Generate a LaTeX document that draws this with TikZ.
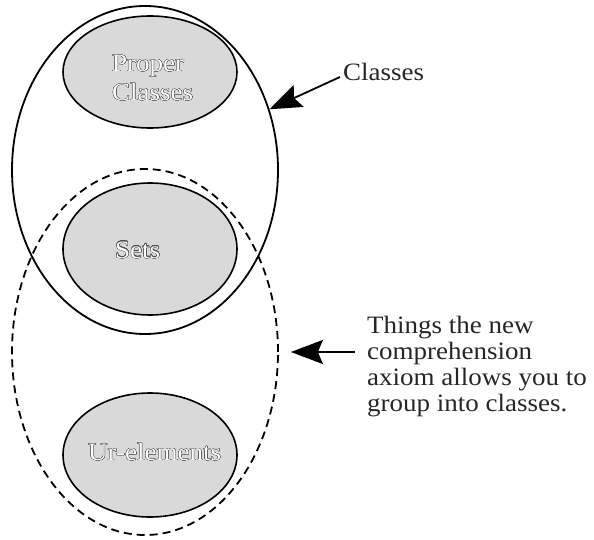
\documentclass[tikz,border=0pt]{standalone}
\usepackage{fontspec}
\setmainfont{Liberation Serif}[FakeStretch=1.08]
\usepackage{contour}
\contourlength{0.3pt}
\usetikzlibrary{shapes.geometric,arrows.meta,calc}
\definecolor{blobgray}{RGB}{217,217,217}
\begin{document}
\begin{tikzpicture}[x=1pt,y=-1pt]
\tikzstyle{every node}+=[inner sep=0pt]
\tikzstyle{outer}=[ellipse, draw, line width=1.8pt]
\tikzstyle{blob}=[ellipse, draw, line width=1.6pt, fill=blobgray]
\tikzstyle{emboss}=[font=\fontsize{25}{29}\selectfont, align=left, text=white]
\tikzstyle{note}=[font=\fontsize{25}{26}\selectfont, align=left, text=black!85]
\tikzstyle{bigarrow}=[line width=1.8pt, -{Stealth[length=32pt,width=24pt,inset=5pt]}]
\useasboundingbox (0,0) rectangle (594,540);

% the two big regions
\node[outer, minimum width=266pt, minimum height=328pt] (classes) at (145,170) {};
\node[outer, dash pattern=on 8pt off 5pt, minimum width=266pt, minimum height=366pt] (things) at (145,352) {};

% grey blobs
\node[blob, minimum width=174pt, minimum height=112pt] (proper) at (150,72) {};
\node[blob, minimum width=174pt, minimum height=132pt] (sets) at (150,249) {};
\node[blob, minimum width=174pt, minimum height=124pt] (ur) at (150,455) {};

\node[emboss, anchor=west] (propertxt) at (112,78) {\contour{black!70}{Proper}\\\contour{black!70}{Classes}};
\node[emboss, anchor=west] (setstxt) at (115,250) {\contour{black!70}{Sets}};
\node[emboss, anchor=west] (urtxt) at (88,452) {\contour{black!70}{Ur-elements}};

% labels on the right
\node[note, anchor=west] (clabel) at (343,72) {Classes};
\node[note, anchor=north west] (tlabel) at (367,316) {Things the new\\comprehension\\axiom allows you to\\group into classes.};

\draw[bigarrow] ([xshift=-3pt,yshift=-5pt]clabel.west) -- (classes.26);
\coordinate (tip2) at ([xshift=12pt]things.east);
\draw[bigarrow] ($(tip2 -| tlabel.west)+(-12pt,0)$) -- (tip2);
\end{tikzpicture}
\end{document}
